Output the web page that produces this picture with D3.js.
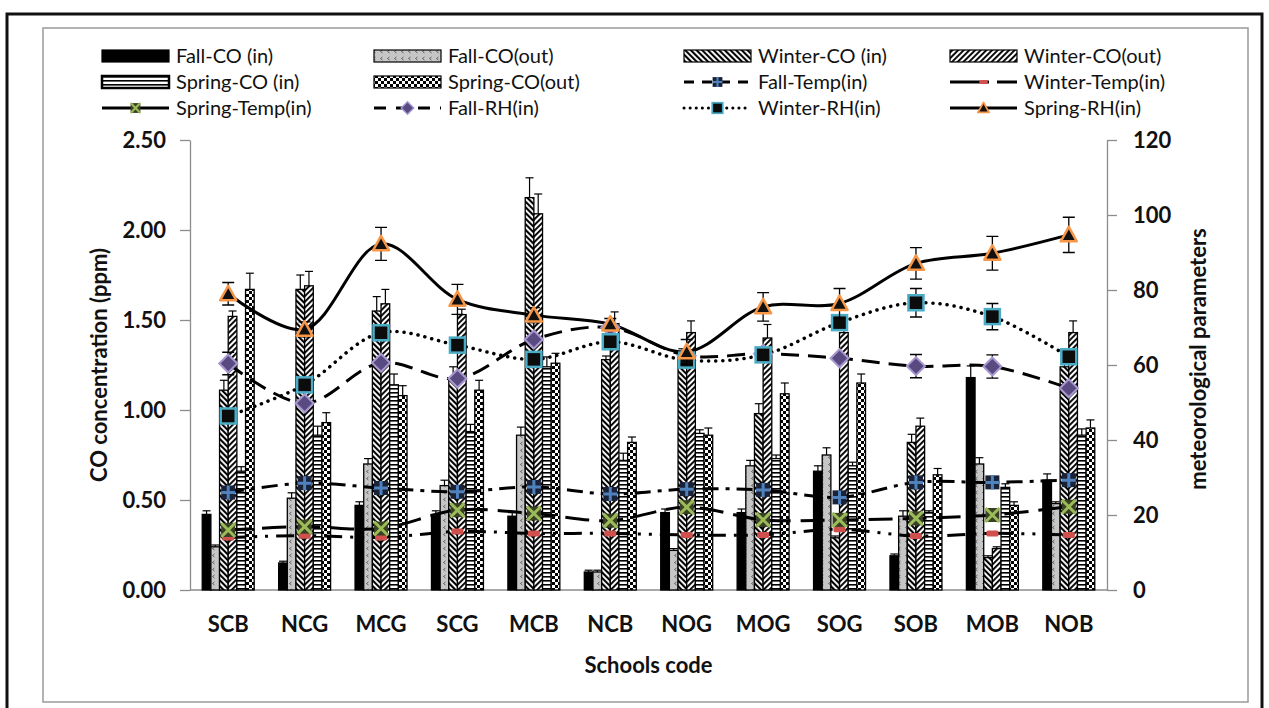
<!DOCTYPE html>
<html>
<head>
<meta charset="utf-8">
<script src="https://cdn.jsdelivr.net/npm/d3@7"></script>
<style>
  body { margin: 0; background: #fff; }
  svg text { font-family: Lato, "Open Sans", sans-serif; fill: #111; }
  .tick text { font-weight: bold; font-size: 22px; }
  .axis path, .axis line { stroke: #8c8c8c; stroke-width: 1.3; }
</style>
</head>
<body>
<div id="chart"></div>
<script>
// values
const schools = ["SCB", "NCG", "MCG", "SCG", "MCB", "NCB", "NOG", "MOG", "SOG", "SOB", "MOB", "NOB"];

// CO bars (ppm, left axis)
const fallCOin    = [0.42, 0.15, 0.47, 0.42, 0.41, 0.10, 0.43, 0.43, 0.66, 0.19, 1.18, 0.61];
const fallCOout   = [0.24, 0.51, 0.70, 0.58, 0.86, 0.10, 0.22, 0.69, 0.75, 0.41, 0.70, 0.48];
const winterCOin  = [1.11, 1.67, 1.55, 1.17, 2.18, 1.28, 1.30, 0.98, 0.29, 0.82, 0.18, 1.24];
const winterCOout = [1.52, 1.69, 1.59, 1.53, 2.09, 1.48, 1.43, 1.40, 1.43, 0.91, 0.23, 1.43];
const springCOin  = [0.66, 0.86, 1.14, 0.88, 1.24, 0.72, 0.87, 0.73, 0.69, 0.43, 0.57, 0.86];
const springCOout = [1.67, 0.93, 1.08, 1.11, 1.26, 0.82, 0.86, 1.09, 1.15, 0.64, 0.47, 0.90];

const fallCOinErr    = [0.02, 0.01, 0.02, 0.02, 0.02, 0.01, 0.02, 0.02, 0.03, 0.01, 0.065, 0.035];
const fallCOoutErr   = [0.01, 0.03, 0.03, 0.03, 0.045, 0.01, 0.01, 0.03, 0.04, 0.03, 0.035, 0.01];
const winterCOinErr  = [0.055, 0.08, 0.08, 0.07, 0.11, 0.02, 0.04, 0.055, 0.01, 0.045, 0.01, 0.03];
const winterCOoutErr = [0.03, 0.08, 0.08, 0.03, 0.11, 0.065, 0.065, 0.075, 0.04, 0.045, 0.01, 0.065];
const springCOinErr  = [0.025, 0.05, 0.06, 0.04, 0.055, 0.04, 0.02, 0.02, 0.02, 0.01, 0.02, 0.035];
const springCOoutErr = [0.09, 0.055, 0.055, 0.055, 0.055, 0.03, 0.04, 0.06, 0.05, 0.035, 0.02, 0.045];

// meteorological lines (right axis)
const fallTemp   = [26.0, 28.5, 27.2, 26.2, 27.5, 25.6, 26.9, 26.7, 24.7, 28.7, 28.7, 29.3];
const winterTemp = [14.0, 14.5, 14.0, 15.6, 15.1, 15.1, 14.7, 14.7, 16.2, 14.4, 15.1, 14.7];
const springTemp = [16.0, 16.9, 16.4, 21.3, 20.4, 18.5, 22.1, 18.7, 18.7, 19.1, 20.0, 22.2];
const fallRH     = [60.4, 49.8, 60.6, 56.4, 66.8, 70.0, 62.5, 63.0, 61.8, 59.7, 59.6, 53.8];
const winterRH   = [46.4, 54.7, 68.6, 65.3, 61.5, 66.2, 61.3, 62.7, 71.3, 76.6, 72.9, 62.2];
const springRH   = [79.0, 69.5, 92.3, 77.5, 73.3, 70.9, 63.5, 75.5, 76.4, 87.1, 89.8, 94.7];

const fallRHErr   = [3, 0, 0, 0, 0, 0, 0, 0, 0, 3.1, 3.1, 0];
const winterRHErr = [0, 0, 0, 0, 0, 0, 0, 0, 0, 3.8, 3.5, 0];
const springRHErr = [3, 2, 4.4, 4, 2, 1.5, 3.3, 3.8, 4, 4.2, 4.5, 4.7];

const leftTicks  = [0, 0.5, 1.0, 1.5, 2.0, 2.5];
const rightTicks = [0, 20, 40, 60, 80, 100, 120];

// ---- setup
const W = 1269, H = 708;
const plot = { left: 190, right: 1107, top: 140, bottom: 590 };

const svg = d3.select("#chart").append("svg")
  .attr("width", W).attr("height", H)
  .attr("viewBox", `0 0 ${W} ${H}`);

// frames
svg.append("rect").attr("x", 7).attr("y", 14).attr("width", 1255).attr("height", 720)
  .attr("fill", "none").attr("stroke", "#111").attr("stroke-width", 3);
svg.append("rect").attr("x", 43).attr("y", 28).attr("width", 1205).attr("height", 674)
  .attr("fill", "none").attr("stroke", "#9a9a9a").attr("stroke-width", 1.5);

// patterns
const defs = svg.append("defs");
function pat(id, w, h, rot) {
  const p = defs.append("pattern").attr("id", id).attr("patternUnits", "userSpaceOnUse")
    .attr("width", w).attr("height", h);
  if (rot) p.attr("patternTransform", `rotate(${rot})`);
  return p;
}
let p = pat("pFallOut", 7, 7);
p.append("rect").attr("width", 7).attr("height", 7).attr("fill", "#c6c6c6");
p.append("path").attr("d", "M4.5,1 L2.5,2.5 L4.5,4").attr("fill", "none").attr("stroke", "#555").attr("stroke-width", 0.9);

p = pat("pWinterIn", 4, 4, -45);
p.append("rect").attr("width", 4).attr("height", 4).attr("fill", "#fff");
p.append("rect").attr("width", 2.1).attr("height", 4).attr("fill", "#000");

p = pat("pWinterOut", 4, 4, 45);
p.append("rect").attr("width", 4).attr("height", 4).attr("fill", "#fff");
p.append("rect").attr("width", 1.9).attr("height", 4).attr("fill", "#000");

p = pat("pSpringIn", 4, 4);
p.append("rect").attr("width", 4).attr("height", 4).attr("fill", "#fff");
p.append("rect").attr("width", 4).attr("height", 1.6).attr("fill", "#000");

p = pat("pSpringOut", 6, 6);
p.append("rect").attr("width", 6).attr("height", 6).attr("fill", "#fff");
p.append("rect").attr("width", 3).attr("height", 3).attr("fill", "#000");
p.append("rect").attr("x", 3).attr("y", 3).attr("width", 3).attr("height", 3).attr("fill", "#000");

// scales
const x = d3.scaleBand().domain(schools).range([plot.left, plot.right])
  .paddingInner(0.32).paddingOuter(0.16);
const yL = d3.scaleLinear().domain([0, 2.5]).range([plot.bottom, plot.top]);
const yR = d3.scaleLinear().domain([0, 120]).range([plot.bottom, plot.top]);

const barSeries = [
  { key: "Fall-CO (in)",   vals: fallCOin,    err: fallCOinErr,    fill: "#000" },
  { key: "Fall-CO(out)",   vals: fallCOout,   err: fallCOoutErr,   fill: "url(#pFallOut)" },
  { key: "Winter-CO (in)", vals: winterCOin,  err: winterCOinErr,  fill: "url(#pWinterIn)" },
  { key: "Winter-CO(out)", vals: winterCOout, err: winterCOoutErr, fill: "url(#pWinterOut)" },
  { key: "Spring-CO (in)", vals: springCOin,  err: springCOinErr,  fill: "url(#pSpringIn)" },
  { key: "Spring-CO(out)", vals: springCOout, err: springCOoutErr, fill: "url(#pSpringOut)" },
];
const xs = d3.scaleBand().domain(barSeries.map(d => d.key)).range([0, x.bandwidth()]);

// axes
svg.append("g").attr("class", "axis").attr("transform", `translate(${plot.left},0)`)
  .call(d3.axisLeft(yL).tickValues(leftTicks).tickFormat(d3.format(".2f")).tickSize(10).tickSizeOuter(0).tickPadding(14));
svg.append("g").attr("class", "axis").attr("transform", `translate(${plot.right},0)`)
  .call(d3.axisRight(yR).tickValues(rightTicks).tickSize(10).tickSizeOuter(0).tickPadding(16));
svg.append("line").attr("x1", plot.left).attr("x2", plot.right)
  .attr("y1", plot.bottom).attr("y2", plot.bottom).attr("stroke", "#8c8c8c").attr("stroke-width", 1.5);

// category labels
svg.append("g").selectAll("text").data(schools).join("text")
  .attr("x", d => x(d) + x.bandwidth() / 2).attr("y", 632)
  .attr("text-anchor", "middle").attr("font-weight", "bold").attr("font-size", 22)
  .text(d => d);

svg.append("text").attr("x", (plot.left + plot.right) / 2).attr("y", 673)
  .attr("text-anchor", "middle").attr("font-weight", "bold").attr("font-size", 22).text("Schools code");
svg.append("text").attr("transform", `translate(107,${(plot.top + plot.bottom) / 2}) rotate(-90)`)
  .attr("text-anchor", "middle").attr("font-weight", "bold").attr("font-size", 22).text("CO concentration (ppm)");
svg.append("text").attr("transform", `translate(1206,${(plot.top + plot.bottom) / 2 - 6}) rotate(-90)`)
  .attr("text-anchor", "middle").attr("font-weight", "bold").attr("font-size", 22).text("meteorological  parameters");

// bars
const gBars = svg.append("g");
barSeries.forEach(s => {
  const rows = schools.map((sc, i) => ({ sc, v: s.vals[i], e: s.err[i] }));
  gBars.append("g").selectAll("rect").data(rows).join("rect")
    .attr("x", d => x(d.sc) + xs(s.key))
    .attr("y", d => yL(d.v))
    .attr("width", xs.bandwidth())
    .attr("height", d => yL(0) - yL(d.v))
    .attr("fill", s.fill).attr("stroke", "#000").attr("stroke-width", 1.3);
});
// bar error bars (plus direction)
barSeries.forEach(s => {
  schools.forEach((sc, i) => {
    if (!s.err[i]) return;
    const cx = x(sc) + xs(s.key) + xs.bandwidth() / 2;
    const y0 = yL(s.vals[i]), y1 = yL(s.vals[i] + s.err[i]);
    gBars.append("line").attr("x1", cx).attr("x2", cx).attr("y1", y0).attr("y2", y1)
      .attr("stroke", "#000").attr("stroke-width", 1.2);
    gBars.append("line").attr("x1", cx - 4).attr("x2", cx + 4).attr("y1", y1).attr("y2", y1)
      .attr("stroke", "#000").attr("stroke-width", 1.2);
  });
});

// markers
function marker(g, type, cx, cy, k = 1) {
  if (type === "tri") {
    const s = 8 * k;
    g.append("path").attr("d", `M${cx},${cy - s} L${cx + s},${cy + s * 0.8} L${cx - s},${cy + s * 0.8} Z`)
      .attr("fill", "#111").attr("stroke", "#F79646").attr("stroke-width", 2.5 * k).attr("stroke-linejoin", "round");
  } else if (type === "sq") {
    const s = 7.5 * k;
    g.append("rect").attr("x", cx - s).attr("y", cy - s).attr("width", 2 * s).attr("height", 2 * s)
      .attr("fill", "#0c0c0c").attr("stroke", "#4BACC6").attr("stroke-width", 2.5 * k);
  } else if (type === "dia") {
    const s = 9 * k;
    g.append("path").attr("d", `M${cx},${cy - s} L${cx + s},${cy} L${cx},${cy + s} L${cx - s},${cy} Z`)
      .attr("fill", "#5a4a82").attr("stroke", "#a898cf").attr("stroke-width", 2 * k);
  } else if (type === "plus") {
    const s = 7 * k;
    g.append("rect").attr("x", cx - s).attr("y", cy - s).attr("width", 2 * s).attr("height", 2 * s)
      .attr("fill", "#1a2238");
    g.append("path").attr("d", `M${cx - s},${cy} H${cx + s} M${cx},${cy - s} V${cy + s}`)
      .attr("stroke", "#4F81BD").attr("stroke-width", 3 * k);
  } else if (type === "x") {
    const s = 7 * k;
    g.append("rect").attr("x", cx - s).attr("y", cy - s).attr("width", 2 * s).attr("height", 2 * s)
      .attr("fill", "#3a4024");
    g.append("path").attr("d", `M${cx - s},${cy - s} L${cx + s},${cy + s} M${cx + s},${cy - s} L${cx - s},${cy + s}`)
      .attr("stroke", "#9BBB59").attr("stroke-width", 3 * k);
  } else if (type === "dash") {
    g.append("rect").attr("x", cx - 6 * k).attr("y", cy - 3 * k).attr("width", 12 * k).attr("height", 6 * k)
      .attr("rx", 1.5).attr("fill", "#D0504D");
  }
}

const lineSeries = [
  { key: "Fall-Temp(in)",   vals: fallTemp,   err: null,        mk: "plus", dash: "16,7,4,7", w: 3 },
  { key: "Winter-Temp(in)", vals: winterTemp, err: null,        mk: "dash", dash: "18,8,3,8,3,8", w: 3 },
  { key: "Spring-Temp(in)", vals: springTemp, err: null,        mk: "x",    dash: "24,10", w: 3 },
  { key: "Fall-RH(in)",     vals: fallRH,     err: fallRHErr,   mk: "dia",  dash: "18,9", w: 3 },
  { key: "Winter-RH(in)",   vals: winterRH,   err: winterRHErr, mk: "sq",   dash: "0.1,7", w: 3.5 },
  { key: "Spring-RH(in)",   vals: springRH,   err: springRHErr, mk: "tri",  dash: null, w: 3 },
];

const cxOf = sc => x(sc) + x.bandwidth() / 2;
const line = d3.line().curve(d3.curveCatmullRom.alpha(0.5)).x(d => cxOf(d.sc)).y(d => yR(d.v));

const gLines = svg.append("g");
lineSeries.forEach(s => {
  const rows = schools.map((sc, i) => ({ sc, v: s.vals[i] }));
  gLines.append("path").datum(rows).attr("d", line)
    .attr("fill", "none").attr("stroke", "#000").attr("stroke-width", s.w)
    .attr("stroke-linecap", s.dash === "0.1,7" ? "round" : "butt")
    .attr("stroke-dasharray", s.dash);
});
lineSeries.forEach(s => {
  const g = gLines.append("g");
  schools.forEach((sc, i) => {
    const cx = cxOf(sc), cy = yR(s.vals[i]);
    if (s.err && s.err[i]) {
      const y0 = yR(s.vals[i] - s.err[i]), y1 = yR(s.vals[i] + s.err[i]);
      g.append("path").attr("d", `M${cx},${y0} V${y1} M${cx - 6},${y0} H${cx + 6} M${cx - 6},${y1} H${cx + 6}`)
        .attr("stroke", "#000").attr("stroke-width", 1.3).attr("fill", "none");
    }
    marker(g, s.mk, cx, cy);
  });
});

// legend
const legendCols = [102, 374, 684, 950];
const legendRows = [56, 82, 108];
const legendItems = [
  { key: "Fall-CO (in)", bar: "#000" },
  { key: "Fall-CO(out)", bar: "url(#pFallOut)" },
  { key: "Winter-CO (in)", bar: "url(#pWinterIn)" },
  { key: "Winter-CO(out)", bar: "url(#pWinterOut)" },
  { key: "Spring-CO (in)", bar: "url(#pSpringIn)" },
  { key: "Spring-CO(out)", bar: "url(#pSpringOut)" },
  { key: "Fall-Temp(in)", mk: "plus", dash: "10,8", w: 3 },
  { key: "Winter-Temp(in)", mk: "dash", dash: "30,6,3,8", w: 3 },
  { key: "Spring-Temp(in)", mk: "x", dash: null, w: 3 },
  { key: "Fall-RH(in)", mk: "dia", dash: "12,10", w: 3 },
  { key: "Winter-RH(in)", mk: "sq", dash: "0.1,6", w: 3 },
  { key: "Spring-RH(in)", mk: "tri", dash: null, w: 3 },
];
const gLeg = svg.append("g");
legendItems.forEach((it, i) => {
  const lx = legendCols[i % 4], ly = legendRows[Math.floor(i / 4)];
  if (it.bar) {
    gLeg.append("rect").attr("x", lx).attr("y", ly - 6).attr("width", 67).attr("height", 12)
      .attr("fill", it.bar).attr("stroke", "#000").attr("stroke-width", it.key === "Spring-CO (in)" ? 2.5 : 1.2);
  } else {
    gLeg.append("line").attr("x1", lx).attr("x2", lx + 67).attr("y1", ly).attr("y2", ly)
      .attr("stroke", "#000").attr("stroke-width", it.w).attr("stroke-dasharray", it.dash)
      .attr("stroke-linecap", it.dash === "0.1,6" ? "round" : "butt");
    marker(gLeg, it.mk, lx + 33.5, ly, 0.7);
  }
  gLeg.append("text").attr("x", lx + 74).attr("y", ly).attr("dy", "0.36em")
    .attr("font-size", 20).text(it.key);
});
</script>
</body>
</html>
